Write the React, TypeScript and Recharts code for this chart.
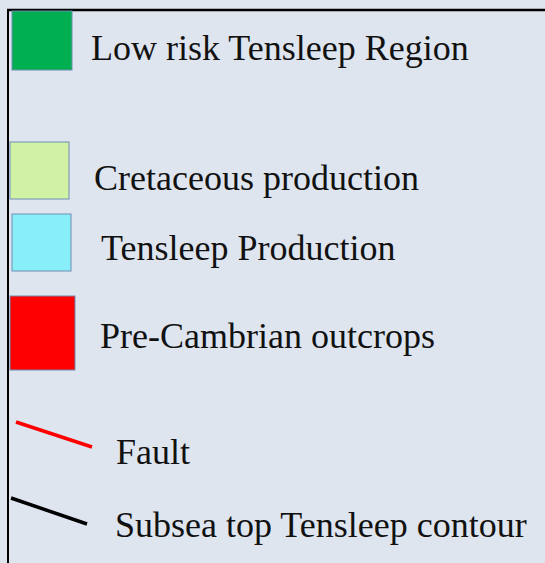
import { ComposedChart, Legend } from 'recharts';

// legend entries, top to bottom
const areaLabels = ['Low risk Tensleep Region', 'Cretaceous production', 'Tensleep Production', 'Pre-Cambrian outcrops'];
const areaColors = ['#00b050', '#d1f2a5', '#88eef7', '#ff0000'];
const lineLabels = ['Fault', 'Subsea top Tensleep contour'];
const lineColors = ['#ff0000', '#000000'];

const W = 545;
const H = 563;
const BG = '#dee5ef';

// layout of the legend panel (swatch box + label anchor)
const areaBoxes = [
  { x: 12, y: 11, w: 60, h: 59, tx: 91, ty: 60 },
  { x: 10, y: 142, w: 59, h: 57, tx: 94, ty: 190 },
  { x: 12, y: 214, w: 59, h: 57, tx: 101, ty: 260 },
  { x: 10, y: 296, w: 65, h: 74, tx: 100, ty: 348 },
];
const lineBoxes = [
  { x1: 16, y1: 422, x2: 92, y2: 447, tx: 116, ty: 464 },
  { x1: 11, y1: 498, x2: 87, y2: 524, tx: 115, ty: 537 },
];

const textStyle = { fontFamily: '"Liberation Serif", "Times New Roman", serif', fontSize: 36, fill: '#111' };

const renderLegend = () => (
  <svg width={W} height={H} style={{ display: 'block' }}>
    <rect x={0} y={0} width={W} height={H} fill={BG} />
    <line x1={7} y1={10} x2={W} y2={10} stroke="#000" strokeWidth={2.5} />
    <line x1={8} y1={9} x2={8} y2={H} stroke="#000" strokeWidth={2} />
    {areaLabels.map((label, i) => {
      const b = areaBoxes[i];
      return (
        <g key={label}>
          <rect x={b.x} y={b.y} width={b.w} height={b.h} fill={areaColors[i]} stroke="#6f8db5" strokeWidth={1} />
          <text x={b.tx} y={b.ty} style={textStyle}>{label}</text>
        </g>
      );
    })}
    {lineLabels.map((label, i) => {
      const b = lineBoxes[i];
      return (
        <g key={label}>
          <line x1={b.x1} y1={b.y1} x2={b.x2} y2={b.y2} stroke={lineColors[i]} strokeWidth={3.5} />
          <text x={b.tx} y={b.ty} style={textStyle}>{label}</text>
        </g>
      );
    })}
  </svg>
);

export default function App() {
  return (
    <div style={{ position: 'absolute', top: 0, left: 0, width: W, height: H, background: BG }}>
      <ComposedChart width={W} height={H} data={[]} margin={{ top: 0, right: 0, bottom: 0, left: 0 }}>
        <Legend
          content={renderLegend}
          wrapperStyle={{ position: 'absolute', top: 0, left: 0, width: W, height: H, margin: 0, padding: 0 }}
        />
      </ComposedChart>
    </div>
  );
}
